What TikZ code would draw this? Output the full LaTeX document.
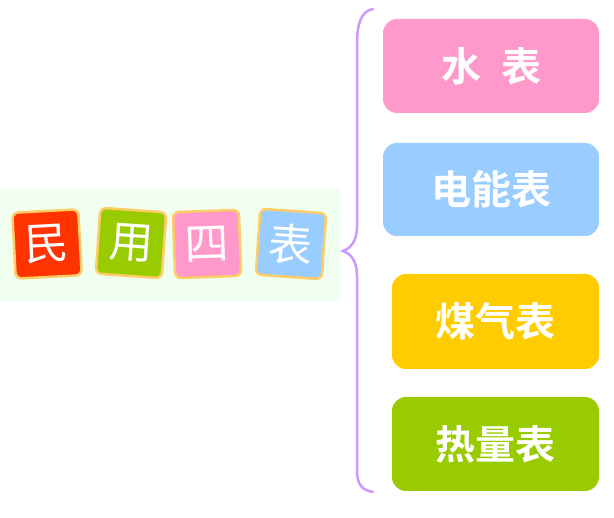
\documentclass[tikz,border=0pt]{standalone}
\usepackage{fontspec}
\newfontfamily\cjk{Noto Sans CJK SC}
\newfontfamily\cjkbold{Noto Sans CJK SC Bold}
\definecolor{tilered}{HTML}{FF3300}
\definecolor{tilegreen}{HTML}{99CC00}
\definecolor{tilepink}{HTML}{FF99CC}
\definecolor{tileblue}{HTML}{99CCFF}
\definecolor{tileedge}{HTML}{FFCC66}
\definecolor{meteryellow}{HTML}{FFCC00}
\definecolor{bracelilac}{HTML}{CC99FF}
\definecolor{bgmint}{HTML}{F0FFF0}
\begin{document}
\begin{tikzpicture}[x=1pt,y=-1pt,
    tile/.style={draw=tileedge,line width=2.5pt,rounded corners=6pt,minimum size=66pt,inner sep=0pt,text=white,font=\cjk\fontsize{44}{44}\selectfont},
    meter/.style={rounded corners=14pt,inner sep=0pt,text=white,font=\cjkbold\fontsize{40}{40}\selectfont}]
        \useasboundingbox (0,0) rectangle (614,518);
        \fill[bgmint] (0,189) rectangle (340,302);
        % the four tiles
        \node[tile,fill=tilered,rotate=3] (min) at (47,244) {民};
        \node[tile,fill=tilegreen,rotate=-4] (yong) at (131,243) {用};
        \node[tile,fill=tilepink,rotate=2] (si) at (207,244) {四};
        \node[tile,fill=tileblue,rotate=-4] (biao) at (291,244) {表};
        % the four meters
        \node[meter,fill=tilepink,minimum width=216pt,minimum height=94pt] (water) at (491,66) {水\hspace{20pt}表};
        \node[meter,fill=tileblue,minimum width=216pt,minimum height=93pt] (power) at (491,189.5) {电能表};
        \node[meter,fill=meteryellow,minimum width=207pt,minimum height=95pt] (gas) at (495.5,321.5) {煤气表};
        \node[meter,fill=tilegreen,minimum width=207pt,minimum height=94pt] (heat) at (495.5,444) {热量表};
        % brace
        \coordinate (tip) at (343,251);
        \draw[bracelilac,line width=2.5pt,line cap=round]
            (373,9) .. controls (361,11) and (357,24) .. (357,45) -- (357,226)
            .. controls (357,241) and (351,248) .. (tip)
            .. controls (351,254) and (357,261) .. (357,276) -- (357,470)
            .. controls (357,485) and (362,490) .. (373,492);
\end{tikzpicture}
\end{document}
